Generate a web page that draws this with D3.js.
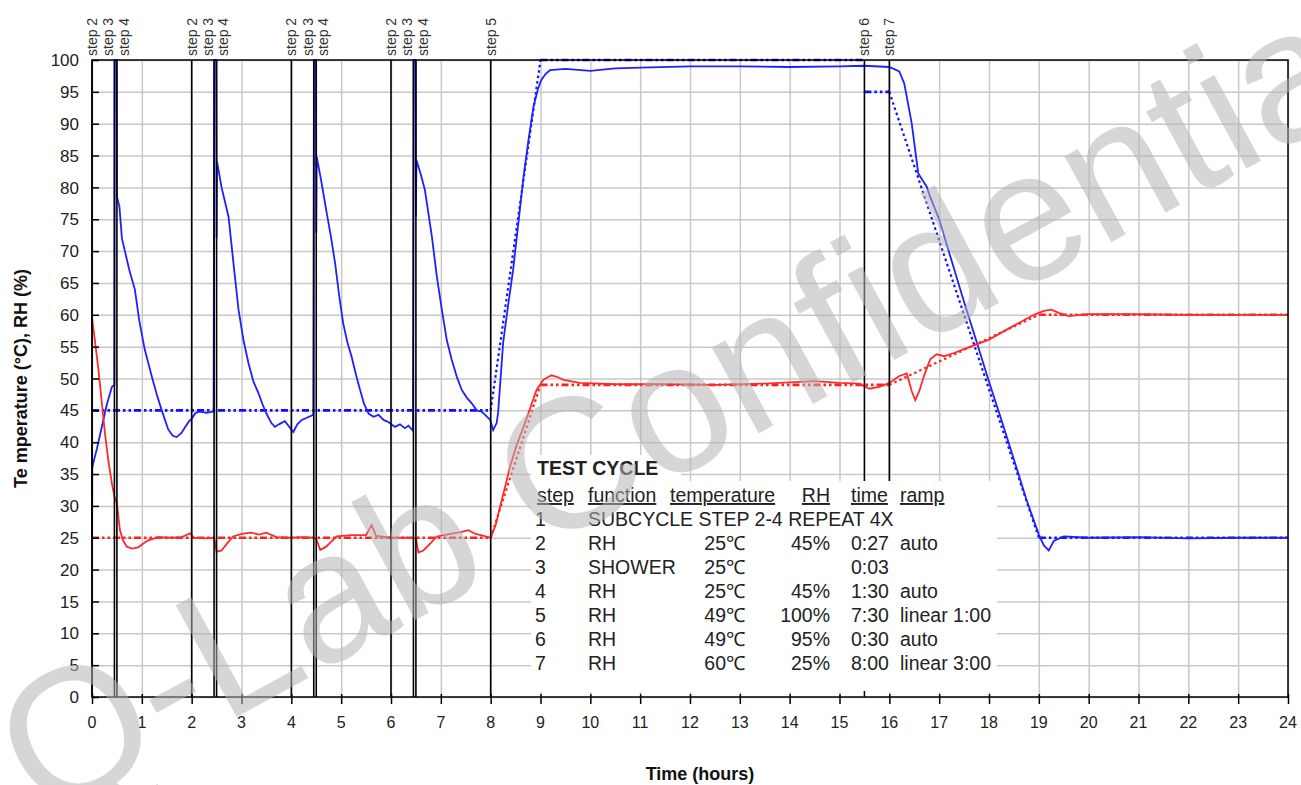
<!DOCTYPE html>
<html lang="en">
<head>
<meta charset="UTF-8" />
<title>Test cycle – temperature and RH</title>
<script src="https://d3js.org/d3.v7.min.js"></script>
<style>
  body { margin: 0; background: #fff; }
  svg { display: block; font-family: "Liberation Sans", Arial, sans-serif; }
  .grid line { stroke: #c8c8c8; stroke-width: 1.5; }
  .grid path { display: none; }
  .tick-label { font-size: 16px; fill: #222; }
  .axis-title { font-size: 18px; font-weight: bold; fill: #111; }
  .step-label { font-size: 14px; fill: #333; }
  .tbl { font-size: 19.5px; fill: #222; }
</style>
</head>
<body>
<svg id="chart" width="1301" height="785"></svg>
<script>
// ---- data ----
const hourTicks = d3.range(0, 25);
const valueTicks = d3.range(0, 101, 5);

const stepNames = ["step 2", "step 3", "step 4", "step 2", "step 3", "step 4", "step 2", "step 3", "step 4",
                   "step 2", "step 3", "step 4", "step 5", "step 6", "step 7"];
const stepTimes = [0, 0.45, 0.5, 2, 2.45, 2.5, 4, 4.45, 4.5, 6, 6.45, 6.5, 8, 15.5, 16];

// set points [hour, value]
const rhSetpoint = [[0, 45], [8, 45], [9, 100], [15.5, 100], [15.5, 95], [16, 95], [19, 25], [24, 25]];
const tempSetpoint = [[0, 25], [8, 25], [9, 49], [16, 49], [19, 60], [24, 60]];

// measured RH (%)
const rhMeasured = [
  [0, 25], [0.005, 36], [0.05, 37.5], [0.1, 39], [0.2, 42.5], [0.3, 46], [0.4, 48.7], [0.45, 49],
  [0.455, 100], [0.495, 100], [0.5, 78.5], [0.55, 77], [0.6, 72], [0.66, 70], [0.75, 67], [0.86, 64],
  [0.95, 59], [1.06, 54.5], [1.2, 50.3], [1.3, 47.5], [1.4, 45], [1.53, 42], [1.62, 41], [1.7, 40.8],
  [1.8, 41.5], [1.87, 42.4], [1.95, 43.3], [2.0, 43.7], [2.08, 44.6], [2.17, 44.8], [2.3, 44.6], [2.44, 44.8],
  [2.455, 100], [2.495, 100], [2.5, 72], [2.51, 84], [2.6, 80], [2.74, 75.4], [2.84, 68], [2.94, 60.8],
  [3.04, 56], [3.14, 52.4], [3.24, 49.5], [3.34, 47.7], [3.42, 46], [3.5, 44.5], [3.6, 43], [3.67, 42.4],
  [3.75, 42.8], [3.87, 43.3], [3.95, 42.5], [4.04, 41.6], [4.12, 42.8], [4.21, 43.5], [4.3, 43.8], [4.44, 44.3],
  [4.455, 100], [4.495, 100], [4.5, 72.8], [4.51, 84.8], [4.6, 81], [4.71, 76], [4.8, 72], [4.88, 68],
  [4.96, 63], [5.04, 58.7], [5.12, 55.8], [5.21, 53.4], [5.3, 50.5], [5.38, 48.2], [5.46, 46], [5.55, 44.5],
  [5.65, 44], [5.75, 44.3], [5.85, 43.5], [5.94, 43.2], [6.08, 42.4], [6.18, 42.8], [6.28, 42.2], [6.35, 42.6],
  [6.44, 41.8], [6.455, 100], [6.495, 100], [6.5, 75.4], [6.51, 84.3], [6.6, 82], [6.68, 79.6], [6.82, 72.3],
  [6.92, 66], [7.02, 60.8], [7.12, 56], [7.22, 52.9], [7.32, 50.3], [7.42, 48.2], [7.52, 47], [7.62, 46.1],
  [7.72, 45], [7.82, 44.8], [7.9, 44.2], [7.99, 43.5], [8.05, 41.9], [8.12, 43], [8.15, 44.7], [8.25, 55.6],
  [8.35, 61.5], [8.45, 67], [8.55, 74], [8.66, 81.7], [8.76, 87.5], [8.86, 92.7], [8.95, 95.5], [9.02, 96.9],
  [9.1, 97.8], [9.19, 98.4], [9.5, 98.6], [10, 98.3], [10.5, 98.7], [11, 98.8], [12, 99.0], [13, 99.0],
  [14, 98.9], [15, 99.0], [15.5, 99.1], [16, 98.9], [16.2, 98.2], [16.3, 96.3], [16.45, 90], [16.58, 82.2],
  [16.75, 80.1], [16.82, 78.5], [17, 75], [17.25, 68.5], [17.5, 62], [17.75, 55.8], [18, 49.5], [18.25, 43.5],
  [18.5, 37.3], [18.75, 31], [19, 25.5], [19.1, 23.8], [19.2, 23.0], [19.3, 24.5], [19.5, 25.2], [20, 25],
  [21, 25.1], [22, 24.9], [23, 25], [24, 25]
];

// measured temperature (°C)
const tempMeasured = [
  [0, 59.5], [0.05, 56.5], [0.13, 51.3], [0.2, 46], [0.26, 41.4], [0.33, 37], [0.4, 33.5], [0.45, 31.5],
  [0.5, 30.4], [0.56, 26.2], [0.62, 24.6], [0.7, 23.6], [0.8, 23.3], [0.93, 23.5], [1.05, 24.2], [1.13, 24.6],
  [1.33, 25.1], [1.6, 25], [1.8, 25.1], [1.97, 25.7], [2.05, 25], [2.3, 24.9], [2.45, 25], [2.5, 22.8],
  [2.6, 23], [2.7, 24], [2.83, 25.2], [3.0, 25.6], [3.2, 25.8], [3.35, 25.5], [3.5, 25.8], [3.7, 25.1],
  [4.0, 25], [4.2, 25.1], [4.45, 25], [4.5, 24.8], [4.58, 23.1], [4.7, 23.6], [4.8, 24.4], [4.91, 25.2],
  [5.2, 25.4], [5.5, 25.4], [5.61, 27], [5.7, 25.3], [6.0, 25], [6.3, 25], [6.5, 24.9], [6.55, 22.7],
  [6.65, 23], [6.8, 24.2], [6.92, 25.2], [7.2, 25.6], [7.4, 25.9], [7.55, 26.2], [7.7, 25.6], [7.9, 25.2],
  [8.0, 25], [8.1, 27], [8.19, 29.9], [8.29, 33], [8.39, 36.2], [8.52, 39.5], [8.66, 42.4], [8.8, 45.5],
  [8.92, 48.2], [9.06, 49.8], [9.22, 50.5], [9.35, 50.2], [9.46, 49.8], [9.79, 49.3], [10.5, 49.1], [11.5, 49.1],
  [12.5, 49], [13.5, 49.2], [14.5, 49.6], [15, 49.3], [15.4, 49.2], [15.6, 48.4], [15.8, 48.7], [16.0, 49.3],
  [16.2, 50.4], [16.35, 50.8], [16.45, 48], [16.52, 46.6], [16.6, 48], [16.7, 50.5], [16.82, 53], [16.95, 53.8],
  [17.1, 53.5], [17.3, 54], [17.5, 54.6], [18, 56.1], [18.5, 58.3], [18.9, 60], [19.1, 60.6], [19.25, 60.8],
  [19.4, 60.3], [19.6, 59.8], [20, 60.1], [21, 60.1], [22, 60], [23, 60], [24, 60]
];

const tableTitle = "TEST CYCLE";
const tableHeader = ["step", "function", "temperature", "RH", "time", "ramp"];
const tableRows = [
  ["1", "SUBCYCLE STEP 2-4 REPEAT 4X", "", "", "", ""],
  ["2", "RH", "25\u2103", "45%", "0:27", "auto"],
  ["3", "SHOWER", "25\u2103", "", "0:03", ""],
  ["4", "RH", "25\u2103", "45%", "1:30", "auto"],
  ["5", "RH", "49\u2103", "100%", "7:30", "linear 1:00"],
  ["6", "RH", "49\u2103", "95%", "0:30", "auto"],
  ["7", "RH", "60\u2103", "25%", "8:00", "linear 3:00"]
];

const yTitle = "Te mperature (\u00b0C), RH (%)";
const xTitle = "Time (hours)";
const watermark = "Q-Lab Confidential";

// ---- layout ----
const W = 1301, H = 785;
const m = {left: 92, right: 13, top: 60, bottom: 88};
const svg = d3.select("#chart");
const x = d3.scaleLinear().domain([0, 24]).range([m.left, W - m.right]);
const y = d3.scaleLinear().domain([0, 100]).range([H - m.bottom, m.top]);
const iw = W - m.left - m.right, ih = H - m.top - m.bottom;

// white box of the test cycle table (sits inside the plot, hides grid and step lines)
const box = {x0: 531, x1: 997, y0: 481, y1: H - m.bottom - 5};

const gridLayer = svg.append("g");
const dataLayer = svg.append("g");
const stepLayer = svg.append("g");
const tableLayer = svg.append("g");
const frameLayer = svg.append("g");
const markLayer = svg.append("g");

// grid
gridLayer.append("g").attr("class", "grid")
  .attr("transform", `translate(0,${H - m.bottom})`)
  .call(d3.axisBottom(x).tickValues(hourTicks).tickSize(-ih).tickFormat(""));
gridLayer.append("g").attr("class", "grid")
  .attr("transform", `translate(${m.left},0)`)
  .call(d3.axisLeft(y).tickValues(valueTicks).tickSize(-iw).tickFormat(""));

// data lines
const line = d3.line().x(d => x(d[0])).y(d => y(d[1]));

function drawSetpoint(data, color) {
  for (let i = 0; i < data.length - 1; i++) {
    const a = data[i], b = data[i + 1];
    if (a[0] === b[0]) continue;
    const flat = a[1] === b[1];
    dataLayer.append("path")
      .attr("d", line([a, b]))
      .attr("fill", "none")
      .attr("stroke", color)
      .attr("stroke-width", flat ? 2.6 : 2.2)
      .attr("stroke-dasharray", flat ? "7,3,2.5,3,2.5,3" : "2.5,3");
  }
}
drawSetpoint(rhSetpoint, "#1010ff");
drawSetpoint(tempSetpoint, "#ff2020");

dataLayer.append("path").datum(rhMeasured)
  .attr("d", line).attr("fill", "none")
  .attr("stroke", "#2020ff").attr("stroke-width", 1.8);
dataLayer.append("path").datum(tempMeasured)
  .attr("d", line).attr("fill", "none")
  .attr("stroke", "#ff2a2a").attr("stroke-width", 1.8);

// step lines (stop at the table box when they run into it)
stepLayer.selectAll("line")
  .data(stepTimes)
  .join("line")
  .attr("x1", d => x(d)).attr("x2", d => x(d))
  .attr("y1", y(100))
  .attr("y2", d => (x(d) > box.x0 && x(d) < box.x1) ? box.y0 : y(0))
  .attr("stroke", "#000").attr("stroke-width", 1.6);

// step labels (spread the close 3/4 pair apart)
stepLayer.selectAll("text")
  .data(stepTimes.map((t, i) => ({t, name: stepNames[i]})))
  .join("text")
  .attr("class", "step-label")
  .attr("transform", d => {
    const off = d.name === "step 3" ? -6 : d.name === "step 4" ? 7 : 0;
    return `translate(${x(d.t) + off},${m.top - 4}) rotate(-90)`;
  })
  .attr("dy", "0.35em")
  .text(d => d.name);

// table
tableLayer.append("rect").attr("x", box.x0).attr("y", 455).attr("width", 150).attr("height", 30).attr("fill", "#fff");
tableLayer.append("rect").attr("x", box.x0).attr("y", box.y0)
  .attr("width", box.x1 - box.x0).attr("height", box.y1 - box.y0).attr("fill", "#fff");
tableLayer.append("text").attr("class", "tbl")
  .attr("x", 537).attr("y", 475)
  .style("font-weight", "bold")
  .text(tableTitle);

const colX = [535, 588, 745, 830, 851, 900];
const colAnchor = ["start", "start", "end", "end", "start", "start"];
const headX = [537, 588, 670, 830, 851, 900];
const headAnchor = ["start", "start", "start", "end", "start", "start"];
const rowY0 = 502, rowH = 24;

tableLayer.selectAll("text.head")
  .data(tableHeader).join("text")
  .attr("class", "tbl head")
  .attr("x", (d, i) => headX[i]).attr("y", rowY0)
  .attr("text-anchor", (d, i) => headAnchor[i])
  .attr("text-decoration", "underline")
  .text(d => d);

tableRows.forEach((row, r) => {
  row.forEach((cell, c) => {
    if (!cell) return;
    tableLayer.append("text").attr("class", "tbl")
      .attr("x", colX[c]).attr("y", rowY0 + (r + 1) * rowH)
      .attr("text-anchor", colAnchor[c])
      .text(cell);
  });
});

// frame
frameLayer.append("rect")
  .attr("x", m.left).attr("y", m.top).attr("width", iw).attr("height", ih)
  .attr("fill", "none").attr("stroke", "#000").attr("stroke-width", 1.5);

// black ticks
const yTicks = frameLayer.append("g").attr("transform", `translate(${m.left},0)`)
  .call(d3.axisRight(y).tickValues(valueTicks).tickSize(7).tickFormat(""));
yTicks.select(".domain").remove();
yTicks.selectAll("line").attr("stroke", "#000").attr("stroke-width", 1.5);

const xTicks = frameLayer.append("g").attr("transform", `translate(0,${H - m.bottom})`)
  .call(d3.axisBottom(x).tickValues(hourTicks).tickSize(7).tickFormat(""));
xTicks.select(".domain").remove();
xTicks.selectAll("line").attr("y1", -3).attr("stroke", "#000").attr("stroke-width", 1.5);
frameLayer.append("line")
  .attr("x1", x(15.5)).attr("x2", x(15.5))
  .attr("y1", y(0)).attr("y2", y(0) - 6)
  .attr("stroke", "#000").attr("stroke-width", 1.5);

// tick labels
frameLayer.append("g").selectAll("text")
  .data(valueTicks).join("text")
  .attr("class", "tick-label")
  .attr("x", m.left - 13).attr("y", d => y(d))
  .attr("dy", "0.36em").attr("text-anchor", "end")
  .style("font-size", "17px")
  .text(d => d);
frameLayer.append("g").selectAll("text")
  .data(hourTicks).join("text")
  .attr("class", "tick-label")
  .attr("x", d => x(d)).attr("y", H - m.bottom + 31)
  .attr("text-anchor", "middle")
  .text(d => d);

// axis titles
frameLayer.append("text").attr("class", "axis-title")
  .attr("transform", `translate(27,${(m.top + H - m.bottom) / 2}) rotate(-90)`)
  .attr("text-anchor", "middle")
  .text(yTitle);
frameLayer.append("text").attr("class", "axis-title")
  .attr("x", 700).attr("y", H - 5)
  .attr("text-anchor", "middle")
  .text(xTitle);

// watermark
markLayer.append("text")
  .attr("transform", "translate(690,398) rotate(-28.5)")
  .attr("text-anchor", "middle")
  .attr("dominant-baseline", "central")
  .style("font-size", "185px")
  .style("font-family", "'Liberation Sans', Arial, sans-serif")
  .attr("fill", "#b4b4b4")
  .attr("fill-opacity", 0.55)
  .text(watermark);
</script>
</body>
</html>
